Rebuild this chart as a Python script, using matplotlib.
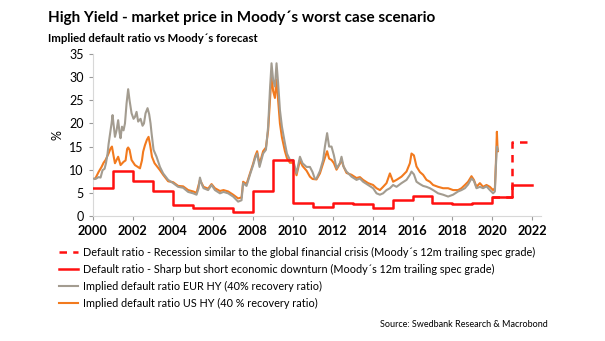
import matplotlib
matplotlib.use("Agg")
import matplotlib.pyplot as plt

# implied default ratio, EUR HY (40% recovery)
eur_years = [2000.00, 2000.15, 2000.30, 2000.40, 2000.50, 2000.60, 2000.67, 2000.75, 2000.80, 2000.88,
             2000.95, 2001.00, 2001.06, 2001.12, 2001.20, 2001.28, 2001.35, 2001.40, 2001.47, 2001.55,
             2001.62, 2001.70, 2001.78, 2001.85, 2001.95, 2002.05, 2002.12, 2002.20, 2002.28, 2002.40,
             2002.50, 2002.57, 2002.65, 2002.75, 2002.83, 2002.90, 2002.95, 2003.05, 2003.20, 2003.37,
             2003.53, 2003.78, 2004.03, 2004.28, 2004.53, 2004.78, 2005.03, 2005.20, 2005.30, 2005.37,
             2005.45, 2005.55, 2005.78, 2005.95, 2006.12, 2006.37, 2006.55, 2006.78, 2007.03, 2007.28,
             2007.45, 2007.53, 2007.70, 2007.87, 2008.03, 2008.13, 2008.23, 2008.35, 2008.53, 2008.67,
             2008.78, 2008.87, 2008.95, 2009.03, 2009.12, 2009.20, 2009.28, 2009.37, 2009.47, 2009.62,
             2009.72, 2009.87, 2010.03, 2010.20, 2010.37, 2010.50, 2010.70, 2010.87, 2011.00, 2011.12,
             2011.20, 2011.37, 2011.53, 2011.62, 2011.73, 2011.83, 2011.95, 2012.07, 2012.20, 2012.37,
             2012.45, 2012.55, 2012.70, 2012.95, 2013.20, 2013.37, 2013.53, 2013.78, 2014.03, 2014.20,
             2014.37, 2014.53, 2014.70, 2014.87, 2015.03, 2015.20, 2015.45, 2015.70, 2015.87, 2015.95,
             2016.07, 2016.20, 2016.37, 2016.53, 2016.70, 2016.87, 2017.03, 2017.28, 2017.53, 2017.78,
             2018.03, 2018.28, 2018.45, 2018.62, 2018.78, 2018.95, 2019.07, 2019.20, 2019.37, 2019.53,
             2019.70, 2019.87, 2020.03, 2020.12, 2020.17, 2020.22, 2020.27]
eur_vals = [8.1, 8.0, 8.4, 8.3, 9.9, 10.2, 11.4, 13.5, 15.5, 17.9,
            20.0, 21.8, 19.5, 17.1, 18.5, 20.7, 18.0, 16.8, 19.3, 18.5,
            20.0, 24.3, 27.4, 25.0, 22.2, 21.0, 21.4, 22.5, 20.4, 21.0,
            19.5, 20.0, 22.2, 23.3, 22.0, 20.0, 17.9, 14.3, 12.8, 10.6,
            9.2, 7.8, 7.1, 6.3, 6.1, 5.2, 4.9, 4.6, 6.0, 8.3,
            7.0, 6.0, 5.6, 6.7, 5.6, 4.9, 5.2, 4.9, 4.2, 3.1,
            3.4, 7.1, 6.5, 8.9, 11.0, 12.5, 13.5, 10.6, 13.5, 14.3,
            19.3, 27.2, 33.0, 29.4, 28.0, 33.0, 28.7, 22.9, 19.3, 15.7,
            13.5, 12.1, 12.1, 9.2, 12.8, 11.4, 10.6, 10.6, 9.5, 8.0,
            8.1, 9.7, 12.1, 15.0, 17.9, 15.0, 15.0, 13.1, 10.3, 11.4,
            12.8, 10.7, 9.6, 8.5, 7.8, 8.1, 7.4, 6.7, 6.0, 4.9,
            4.6, 4.9, 5.6, 6.0, 6.7, 6.3, 7.1, 7.8, 8.9, 9.6,
            9.0, 7.4, 6.9, 6.5, 6.3, 6.0, 5.6, 4.9, 4.6, 4.2,
            4.6, 5.3, 5.6, 6.0, 6.8, 8.1, 7.6, 6.0, 6.3, 6.0,
            6.4, 5.6, 4.9, 5.3, 10.7, 15.0, 14.3]

# implied default ratio, US HY (40% recovery)
us_years = [2000.00, 2000.15, 2000.30, 2000.45, 2000.55, 2000.65, 2000.80, 2000.90, 2000.97, 2001.05,
            2001.12, 2001.28, 2001.40, 2001.55, 2001.65, 2001.73, 2001.78, 2001.85, 2001.95, 2002.12,
            2002.37, 2002.47, 2002.53, 2002.62, 2002.72, 2002.80, 2002.88, 2002.97, 2003.10, 2003.37,
            2003.53, 2003.78, 2004.03, 2004.28, 2004.53, 2004.78, 2005.03, 2005.20, 2005.37, 2005.55,
            2005.78, 2005.95, 2006.12, 2006.37, 2006.55, 2006.78, 2007.03, 2007.28, 2007.45, 2007.53,
            2007.70, 2007.87, 2008.03, 2008.13, 2008.23, 2008.35, 2008.53, 2008.67, 2008.78, 2008.87,
            2008.95, 2009.03, 2009.12, 2009.20, 2009.28, 2009.37, 2009.47, 2009.62, 2009.72, 2009.87,
            2010.03, 2010.20, 2010.37, 2010.50, 2010.70, 2010.87, 2011.00, 2011.20, 2011.37, 2011.53,
            2011.62, 2011.73, 2011.83, 2011.95, 2012.07, 2012.20, 2012.37, 2012.45, 2012.55, 2012.70,
            2012.95, 2013.20, 2013.37, 2013.53, 2013.78, 2014.03, 2014.20, 2014.37, 2014.53, 2014.70,
            2014.87, 2015.03, 2015.20, 2015.45, 2015.70, 2015.87, 2015.95, 2016.07, 2016.20, 2016.37,
            2016.53, 2016.70, 2016.87, 2017.03, 2017.28, 2017.53, 2017.78, 2018.03, 2018.28, 2018.45,
            2018.62, 2018.78, 2018.95, 2019.07, 2019.20, 2019.37, 2019.53, 2019.70, 2019.87, 2020.03,
            2020.12, 2020.17, 2020.22, 2020.25, 2020.27]
us_vals = [7.8, 8.2, 9.5, 10.6, 11.5, 12.1, 13.5, 14.6, 15.0, 13.0,
           11.4, 12.8, 11.0, 11.7, 12.0, 14.5, 14.8, 14.3, 12.1, 11.0,
           10.3, 12.0, 13.9, 15.3, 16.5, 17.1, 15.3, 12.8, 11.4, 9.9,
           8.9, 7.5, 7.3, 6.5, 6.4, 5.6, 5.3, 5.0, 7.8, 6.3,
           5.9, 6.9, 6.0, 5.4, 5.6, 5.3, 4.6, 3.8, 4.0, 7.4,
           6.9, 9.2, 11.3, 12.9, 14.0, 11.2, 14.0, 14.8, 18.5, 25.0,
           30.5, 27.0, 25.5, 29.5, 25.0, 20.0, 17.0, 14.0, 12.5, 11.5,
           11.5, 8.8, 12.0, 10.8, 9.8, 8.5, 8.0, 7.9, 9.2, 11.4,
           12.6, 14.0, 12.4, 12.1, 11.4, 10.0, 11.3, 12.1, 10.7, 9.3,
           8.9, 8.2, 8.4, 7.8, 7.1, 6.7, 6.0, 5.6, 6.3, 7.1,
           9.2, 7.4, 7.8, 8.5, 9.6, 11.4, 13.5, 13.1, 10.7, 9.5,
           8.9, 7.8, 7.4, 6.7, 6.3, 6.0, 6.0, 5.6, 5.6, 6.0,
           6.7, 7.4, 8.6, 7.8, 6.3, 7.1, 6.3, 6.7, 6.3, 5.6,
           6.0, 11.4, 18.2, 15.0, 14.0]

# Moody's 12m trailing spec grade default ratio (step, start of each period)
moody_years = [2000, 2001, 2002, 2003, 2004, 2005, 2007, 2008, 2009, 2010, 2011, 2012,
               2013, 2014, 2015, 2016, 2017, 2018, 2019, 2020, 2021, 2022]
moody_vals = [6.1, 9.7, 7.6, 5.3, 2.4, 1.7, 0.8, 5.4, 12.1, 2.9, 2.0, 2.7,
              2.6, 1.8, 3.5, 4.4, 2.7, 2.5, 2.8, 4.2, 6.7, 6.7]

# recession scenario
scen_years = [2020, 2021, 2022]
scen_vals = [4.2, 16.0, 16.0]

red = "#ff1010"
grey = "#a39c90"
orange = "#f27a1e"
fam = ["Lato", "DejaVu Sans"]

fig = plt.figure(figsize=(6.05, 3.41), dpi=100)
ax = fig.add_axes([0.153, 0.3666, 0.742, 0.475])

l_us, = ax.plot(us_years, us_vals, color=orange, lw=1.5, zorder=2)
l_eur, = ax.plot(eur_years, eur_vals, color=grey, lw=1.5, zorder=3)
l_scen, = ax.step(scen_years, scen_vals, where="post", color=red, lw=1.8, ls=(0, (3, 2.5)), zorder=4)
l_moody, = ax.step(moody_years, moody_vals, where="post", color=red, lw=1.8, zorder=5)

ax.set_xlim(2000, 2022.45)
ax.set_ylim(0, 35)
ax.set_xticks(range(2000, 2023, 2))
ax.set_yticks(range(0, 36, 5))
for s in ["top", "right"]:
    ax.spines[s].set_visible(False)
for s in ["left", "bottom"]:
    ax.spines[s].set_color("#d8d8d8")
    ax.spines[s].set_linewidth(0.8)
ax.tick_params(axis="both", colors="#999999", length=3, width=0.8)
for lab in ax.get_xticklabels():
    lab.set_family(fam)
    lab.set_fontsize(9.2)
    lab.set_fontweight("bold")
    lab.set_color("black")
for lab in ax.get_yticklabels():
    lab.set_family(fam)
    lab.set_fontsize(9)
    lab.set_color("black")
ax.set_ylabel("%", family=fam, fontsize=9, labelpad=4)

fig.text(0.079, 0.948, "High Yield - market price in Moody´s worst case scenario",
         family=fam, fontsize=11, fontweight="bold", va="center")
fig.text(0.079, 0.888, "Implied default ratio vs Moody´s forecast",
         family=fam, fontsize=8.2, fontweight="bold", va="center")

leg = fig.legend([l_scen, l_moody, l_eur, l_us],
                 ["Default ratio - Recession similar to the global financial crisis (Moody´s 12m trailing spec grade)",
                  "Default ratio - Sharp but short economic downturn (Moody´s 12m trailing spec grade)",
                  "Implied default ratio EUR HY (40% recovery ratio)",
                  "Implied default ratio US HY (40 % recovery ratio)"],
                 loc="upper left", bbox_to_anchor=(0.097, 0.275), frameon=False,
                 prop={"family": fam, "size": 7.8}, handlelength=1.8, handletextpad=0.4,
                 labelspacing=0.55, borderpad=0, borderaxespad=0)

fig.text(0.905, 0.047, "Source: Swedbank Research & Macrobond",
         family=fam, fontsize=6.5, ha="right", va="center")

fig.savefig("out.png", dpi=100)
